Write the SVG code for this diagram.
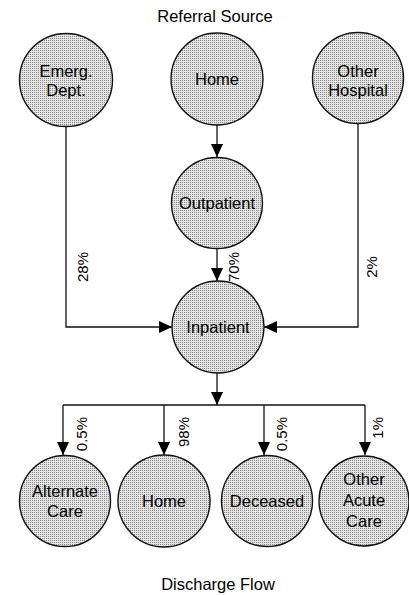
<svg xmlns="http://www.w3.org/2000/svg" width="409" height="595" viewBox="0 0 409 595">
<style>
.node{fill:url(#stip);stroke:#111;stroke-width:1.4}
.lbl{font-family:"Liberation Sans",Arial,sans-serif;font-size:16.5px;fill:#000;text-anchor:middle}
.pct{font-family:"Liberation Sans",Arial,sans-serif;font-size:15px;fill:#000}
.title{font-family:"Liberation Sans",Arial,sans-serif;font-size:16.5px;fill:#000;text-anchor:middle}
.con{fill:none;stroke:#111;stroke-width:1.3}
</style>
<defs>
<pattern id="stip" width="2" height="2" patternUnits="userSpaceOnUse">
<rect width="2" height="2" fill="#e4e4e4"/>
<rect width="1" height="1" fill="#8a8a8a"/>
</pattern>
<marker id="arr" markerUnits="userSpaceOnUse" markerWidth="14" markerHeight="12" refX="13" refY="6" orient="auto">
<path d="M0,0 L13,6 L0,12 Z" fill="#000"/>
</marker>
</defs>
<text class="title" x="215" y="22">Referral Source</text>
<text class="title" x="218" y="590">Discharge Flow</text>
<g id="connectors">
<path class="con" d="M217,125 V157" marker-end="url(#arr)"/>
<path class="con" d="M217,248 V281" marker-end="url(#arr)"/>
<path class="con" d="M66,126 V327 H172" marker-end="url(#arr)"/>
<path class="con" d="M358,123 V327 H264" marker-end="url(#arr)"/>
<path class="con" d="M217,373 V405" marker-end="url(#arr)"/>
<path class="con" d="M63,405 H365"/>
<path class="con" d="M63,405 V455" marker-end="url(#arr)"/>
<path class="con" d="M164,405 V455" marker-end="url(#arr)"/>
<path class="con" d="M264,405 V455" marker-end="url(#arr)"/>
<path class="con" d="M365,405 V455" marker-end="url(#arr)"/>
<text class="pct" text-anchor="middle" transform="translate(88,267) rotate(-90)">28%</text>
<text class="pct" text-anchor="middle" transform="translate(239,267) rotate(-90)">70%</text>
<text class="pct" text-anchor="middle" transform="translate(377,267) rotate(-90)">2%</text>
<text class="pct" text-anchor="end" transform="translate(87,417) rotate(-90)">0.5%</text>
<text class="pct" text-anchor="end" transform="translate(189,417) rotate(-90)">98%</text>
<text class="pct" text-anchor="end" transform="translate(287,417) rotate(-90)">0.5%</text>
<text class="pct" text-anchor="end" transform="translate(383,417) rotate(-90)">1%</text>
</g>
<g id="emerg"><circle class="node" cx="66" cy="80" r="46.5"/><text class="lbl" x="66" y="77">Emerg.</text><text class="lbl" x="66" y="96">Dept.</text></g>
<g id="home-src"><circle class="node" cx="217" cy="79" r="46"/><text class="lbl" x="217" y="85">Home</text></g>
<g id="other-hosp"><circle class="node" cx="358" cy="78" r="45.5"/><text class="lbl" x="358" y="77">Other</text><text class="lbl" x="358" y="96">Hospital</text></g>
<g id="outpatient"><circle class="node" cx="217" cy="203" r="45.5"/><text class="lbl" x="217" y="209">Outpatient</text></g>
<g id="inpatient"><circle class="node" cx="218" cy="327" r="46"/><text class="lbl" x="218" y="333">Inpatient</text></g>
<g id="alt-care"><circle class="node" cx="65" cy="501" r="45.5"/><text class="lbl" x="65" y="497">Alternate</text><text class="lbl" x="65" y="517">Care</text></g>
<g id="home-dis"><circle class="node" cx="164" cy="501" r="46"/><text class="lbl" x="164" y="507">Home</text></g>
<g id="deceased"><circle class="node" cx="267" cy="501" r="45.5"/><text class="lbl" x="267" y="507">Deceased</text></g>
<g id="other-acute"><circle class="node" cx="364" cy="501" r="45"/><text class="lbl" x="364" y="485">Other</text><text class="lbl" x="364" y="506">Acute</text><text class="lbl" x="364" y="527">Care</text></g>
</svg>
